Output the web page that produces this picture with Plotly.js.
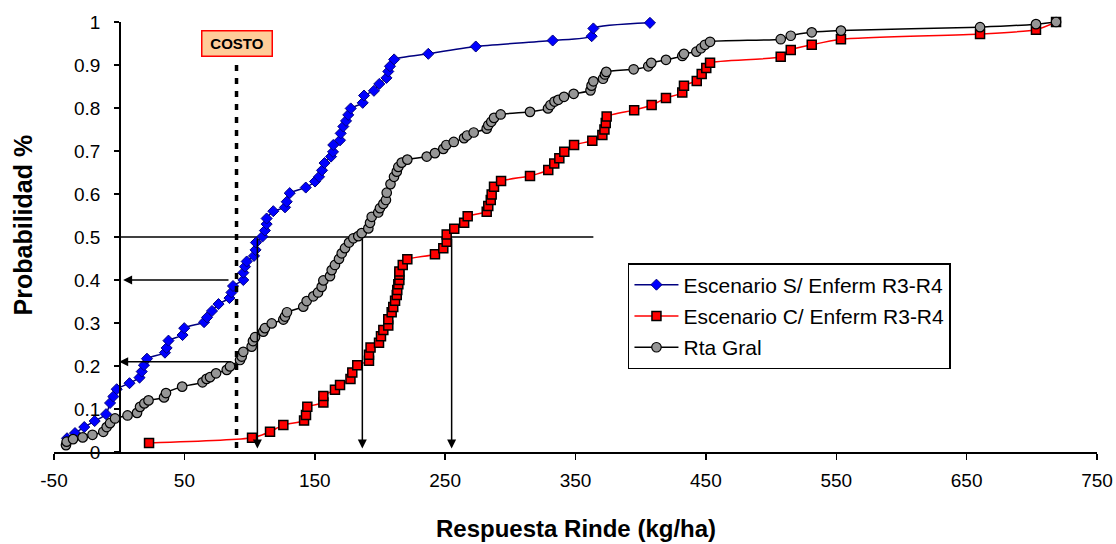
<!DOCTYPE html>
<html>
<head>
<meta charset="utf-8">
<script src="https://cdn.plot.ly/plotly-3.0.1.min.js"></script>
<style>
  html, body { margin: 0; padding: 0; background: #fff; }
  #chart { width: 1116px; height: 544px; }
</style>
</head>
<body>
<div id="chart"></div>
<script>
// ---- Data ----
const seriesNames = ["Escenario S/ Enferm R3-R4", "Escenario C/ Enferm R3-R4", "Rta Gral"];

const blueX = [-40.0, -33.9, -26.8, -18.8, -10.1, -7.0, -4.5, -1.9, 7.9, 15.6, 17.3, 19.0, 21.3, 35.1, 36.4, 37.8,
  48.6, 49.9, 65.1, 67.4, 71.2, 76.2, 84.6, 86.1, 87.3, 95.2, 95.2, 96.5, 97.8, 103.4, 104.6, 104.9, 109.9, 111.8,
  113.1, 113.1, 118.2, 127.2, 128.5, 130.8, 143.1, 150.2, 153.3, 155.6, 157.5, 162.5, 164.0, 164.2, 169.4, 169.9,
  171.9, 174.0, 175.7, 177.6, 186.8, 187.8, 195.4, 199.5, 205.0, 206.4, 207.7, 210.9, 237.1, 273.5, 332.5, 362.4,
  363.7, 407.1];
const blueY = [0.032, 0.044, 0.058, 0.072, 0.088, 0.114, 0.129, 0.146, 0.160, 0.173, 0.187, 0.202, 0.217, 0.231,
  0.242, 0.259, 0.272, 0.288, 0.302, 0.313, 0.328, 0.344, 0.358, 0.371, 0.386, 0.400, 0.417, 0.431, 0.443, 0.456,
  0.470, 0.487, 0.501, 0.515, 0.530, 0.543, 0.560, 0.569, 0.582, 0.602, 0.615, 0.629, 0.640, 0.655, 0.672, 0.687,
  0.698, 0.714, 0.725, 0.741, 0.757, 0.770, 0.784, 0.799, 0.812, 0.829, 0.840, 0.856, 0.870, 0.885, 0.897, 0.913,
  0.926, 0.943, 0.957, 0.967, 0.985, 0.998];

const redX = [22.9, 101.9, 115.7, 125.9, 141.8, 143.3, 144.3, 156.6, 156.6, 165.5, 169.4, 177.4, 178.8, 182.6,
  191.6, 191.6, 192.8, 199.3, 200.8, 202.6, 206.4, 206.4, 209.0, 210.2, 211.6, 212.9, 213.3, 214.1, 214.9, 214.9,
  214.9, 217.5, 221.0, 242.2, 248.6, 251.2, 251.2, 257.0, 264.6, 267.3, 281.9, 283.1, 285.0, 285.7, 287.5, 292.9,
  315.1, 329.1, 333.7, 337.6, 341.4, 348.9, 362.9, 370.6, 372.2, 373.2, 373.9, 395.0, 408.4, 419.4, 431.9, 433.2,
  443.0, 446.8, 450.3, 453.2, 507.4, 515.1, 531.2, 553.6, 660.3, 703.2, 718.6];
const redY = [0.021, 0.033, 0.047, 0.063, 0.073, 0.086, 0.105, 0.115, 0.130, 0.145, 0.156, 0.170, 0.185, 0.202,
  0.212, 0.226, 0.243, 0.254, 0.269, 0.284, 0.294, 0.309, 0.325, 0.337, 0.352, 0.365, 0.377, 0.390, 0.400, 0.412,
  0.420, 0.435, 0.448, 0.460, 0.474, 0.489, 0.506, 0.519, 0.533, 0.548, 0.559, 0.572, 0.586, 0.599, 0.617, 0.630,
  0.642, 0.656, 0.671, 0.683, 0.698, 0.714, 0.724, 0.737, 0.750, 0.765, 0.780, 0.795, 0.807, 0.823, 0.836, 0.852,
  0.863, 0.879, 0.893, 0.905, 0.919, 0.935, 0.947, 0.960, 0.972, 0.982, 1.000];

const grayX = [-40.8, -40.3, -35.4, -28.0, -20.5, -12.2, -9.6, -7.0, -3.2, 6.4, 13.7, 16.0, 19.3, 22.5, 34.4, 35.9,
  48.3, 63.9, 67.0, 69.7, 74.3, 82.5, 85.0, 92.7, 94.0, 95.2, 101.6, 102.6, 104.2, 110.5, 111.8, 117.0, 125.9, 127.2,
  128.7, 141.2, 143.8, 148.9, 152.5, 155.3, 156.6, 161.7, 163.0, 165.5, 168.6, 170.7, 173.2, 176.3, 179.6, 183.4,
  186.0, 191.1, 192.4, 193.7, 198.7, 200.0, 202.6, 204.6, 205.2, 208.1, 210.8, 212.9, 214.1, 216.7, 221.0, 235.9,
  242.2, 248.6, 250.9, 256.6, 264.5, 266.8, 271.9, 281.9, 283.1, 285.4, 287.5, 292.6, 315.1, 328.9, 330.8, 333.9,
  336.8, 341.2, 348.6, 361.5, 362.3, 363.7, 371.1, 372.6, 373.6, 394.6, 405.8, 408.1, 419.4, 431.9, 433.2, 442.7,
  446.3, 449.3, 453.2, 507.4, 515.1, 531.2, 553.6, 660.3, 703.2, 718.6];
const grayY = [0.016, 0.024, 0.030, 0.034, 0.040, 0.047, 0.058, 0.067, 0.078, 0.085, 0.091, 0.105, 0.113, 0.120,
  0.127, 0.137, 0.152, 0.162, 0.170, 0.174, 0.183, 0.191, 0.199, 0.214, 0.222, 0.233, 0.245, 0.258, 0.267, 0.280,
  0.288, 0.299, 0.308, 0.315, 0.325, 0.338, 0.351, 0.362, 0.371, 0.384, 0.399, 0.409, 0.423, 0.435, 0.449, 0.462,
  0.474, 0.487, 0.497, 0.502, 0.509, 0.520, 0.533, 0.547, 0.557, 0.567, 0.577, 0.586, 0.603, 0.623, 0.640, 0.652,
  0.663, 0.673, 0.680, 0.687, 0.695, 0.705, 0.714, 0.721, 0.730, 0.736, 0.743, 0.752, 0.760, 0.768, 0.777, 0.785,
  0.791, 0.799, 0.807, 0.815, 0.819, 0.826, 0.833, 0.841, 0.852, 0.862, 0.868, 0.878, 0.884, 0.890, 0.897, 0.905,
  0.912, 0.921, 0.926, 0.931, 0.939, 0.947, 0.954, 0.960, 0.968, 0.976, 0.980, 0.988, 0.995, 1.000];

// Reference lines / annotations (data values)
const costoX = 90;          // cost line position
const costoTop = 0.9;
const costoLabel = "COSTO";
const halfProb = 0.5;
const halfLineEnd = 363.7;
const medians = [106, 186.5, 255];       // vertical arrows from p=0.5 to axis
const leftArrows = [{p: 0.4, from: 85, to: 3}, {p: 0.21, from: 87, to: 0}];

const xTitle = "Respuesta Rinde (kg/ha)";
const yTitle = "Probabilidad %";
const xTickVals = [-50, 50, 150, 250, 350, 450, 550, 650, 750];
const yTickVals = [0, 0.1, 0.2, 0.3, 0.4, 0.5, 0.6, 0.7, 0.8, 0.9, 1];

// ---- Chart ----
const FONT = "Liberation Sans, Arial, sans-serif";

const traces = [
  {
    x: blueX, y: blueY, name: seriesNames[0], type: "scatter", mode: "lines+markers",
    legendgroup: "a", cliponaxis: false,
    line: {color: "#000080", width: 1.5, shape: "spline", smoothing: 0.6},
    marker: {symbol: "diamond", size: 8.5, color: "#0000FF", line: {color: "#000080", width: 1}}
  },
  {
    x: redX, y: redY, name: seriesNames[1], type: "scatter", mode: "lines+markers",
    legendgroup: "b", cliponaxis: false,
    line: {color: "#FF0000", width: 1.5, shape: "spline", smoothing: 0.6},
    marker: {symbol: "square", size: 9, color: "#FF0000", line: {color: "#000000", width: 1.5}}
  },
  {
    x: grayX, y: grayY, name: seriesNames[2], type: "scatter", mode: "lines+markers",
    legendgroup: "c", cliponaxis: false,
    line: {color: "#000000", width: 1.5, shape: "spline", smoothing: 0.6},
    marker: {symbol: "circle", size: 9.5, color: "#969696", line: {color: "#000000", width: 1.2}}
  }
];

const shapes = [
  {type: "line", xref: "x", yref: "y", x0: 0, x1: halfLineEnd, y0: halfProb, y1: halfProb,
   line: {color: "#000", width: 1.5}, layer: "below"},
  {type: "line", xref: "x", yref: "y", x0: costoX, x1: costoX, y0: costoTop, y1: -0.015,
   line: {color: "#000", width: 3.5, dash: "6px,7px"}, layer: "above"}
];

const annotations = [
  {xref: "x", yref: "paper", x: costoX, y: 0.951, xanchor: "center", yanchor: "middle",
   text: "<b>" + costoLabel + "</b>", showarrow: false,
   font: {family: FONT, size: 15, color: "#000"}, bgcolor: "#FFCC99", bordercolor: "#FF0000",
   borderwidth: 1.5, borderpad: 1, width: 67, height: 22},
  {xref: "paper", yref: "paper", x: -0.0297, y: 0.527, text: "<b>" + yTitle + "</b>", showarrow: false,
   textangle: -90, font: {family: FONT, size: 25, color: "#000"}, xanchor: "center", yanchor: "middle"},
  {xref: "paper", yref: "paper", x: 0.5, y: -0.179, text: "<b>" + xTitle + "</b>", showarrow: false,
   font: {family: FONT, size: 24, color: "#000"}, xanchor: "center", yanchor: "middle"}
];

medians.forEach(m => annotations.push({
  xref: "x", yref: "y", axref: "x", ayref: "y", x: m, y: 0.008, ax: m, ay: halfProb,
  text: "", showarrow: true, arrowhead: 2, arrowsize: 1.2, arrowwidth: 1.5, arrowcolor: "#000",
  standoff: 0, startstandoff: 0
}));
leftArrows.forEach(a => annotations.push({
  xref: "x", yref: "y", axref: "x", ayref: "y", x: a.to, y: a.p, ax: a.from, ay: a.p,
  text: "", showarrow: true, arrowhead: 2, arrowsize: 1.2, arrowwidth: 1.5, arrowcolor: "#000",
  standoff: 0, startstandoff: 0
}));

const layout = {
  width: 1116, height: 544,
  margin: {l: 54, r: 19, t: 22, b: 92, pad: 0},
  paper_bgcolor: "#fff", plot_bgcolor: "rgba(0,0,0,0)",
  font: {family: FONT, size: 19, color: "#000"},
  showlegend: true,
  legend: {
    x: 0.5503, y: 0.4395, xanchor: "left", yanchor: "top",
    bgcolor: "#fff", bordercolor: "#000", borderwidth: 1.5,
    font: {family: FONT, size: 21, color: "#000"},
    traceorder: "grouped", tracegroupgap: 1, itemwidth: 44
  },
  xaxis: {
    range: [-50, 750], tickvals: xTickVals, ticktext: xTickVals.map(String),
    showgrid: false, zeroline: false, showline: true, linecolor: "#000", linewidth: 1.5,
    ticks: "outside", ticklen: 6, tickwidth: 1.5, tickcolor: "#000",
    tickfont: {family: FONT, size: 19, color: "#000"}, ticklabelstandoff: 5,
    anchor: "y"
  },
  yaxis: {
    range: [0, 1], tickvals: yTickVals, ticktext: yTickVals.map(String),
    showgrid: false, zeroline: false, showline: true, linecolor: "#000", linewidth: 1.5,
    ticks: "outside", ticklen: 5, tickwidth: 1.5, tickcolor: "#000",
    tickfont: {family: FONT, size: 19, color: "#000"}, ticklabelstandoff: 10,
    anchor: "free", position: 50 / 800
  },
  shapes: shapes,
  annotations: annotations
};

Plotly.newPlot("chart", traces, layout, {staticPlot: true, displayModeBar: false});
</script>
</body>
</html>
